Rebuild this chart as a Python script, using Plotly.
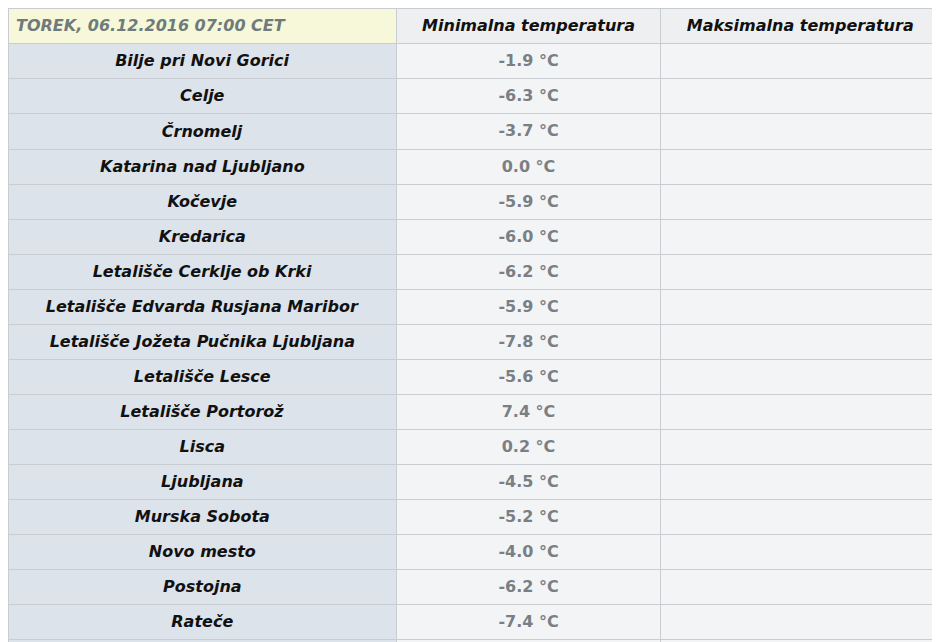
import plotly.graph_objects as go

stations = ["Bilje pri Novi Gorici", "Celje", "Črnomelj", "Katarina nad Ljubljano",
            "Kočevje", "Kredarica", "Letališče Cerklje ob Krki",
            "Letališče Edvarda Rusjana Maribor", "Letališče Jožeta Pučnika Ljubljana",
            "Letališče Lesce", "Letališče Portorož", "Lisca", "Ljubljana",
            "Murska Sobota", "Novo mesto", "Postojna", "Rateče", "Slovenj Gradec", "Vojsko"]
min_temp = [-1.9, -6.3, -3.7, 0.0, -5.9, -6.0, -6.2, -5.9, -7.8, -5.6,
            7.4, 0.2, -4.5, -5.2, -4.0, -6.2, -7.4, -7.2, -6.2]
max_temp = [""] * len(stations)
headers = ["TOREK, 06.12.2016 07:00 CET", "Minimalna temperatura", "Maksimalna temperatura"]

col1 = ["<b><i>%s</i></b>" % s for s in stations]
col2 = ["<b>%.1f °C</b>" % v for v in min_temp]

fig = go.Figure(go.Table(
    columnwidth=[392, 266, 282],
    header=dict(
        values=["<b><i>%s</i></b>" % h for h in headers],
        fill_color=["#f7f8d9", "#eeeff1", "#eeeff1"],
        line_color="#c9cdd2",
        font=dict(family="DejaVu Sans", size=16, color=["#6f7b7b", "#111111", "#111111"]),
        align=["left", "center", "center"],
        height=29.5,
    ),
    cells=dict(
        values=[col1, col2, max_temp],
        fill_color=["#dde3ea", "#f3f4f6", "#f3f4f6"],
        line_color="#c9cdd2",
        font=dict(family="DejaVu Sans", size=16, color=["#111111", "#7a7f84", "#111111"]),
        align="center",
        height=29.5,
    ),
))

fig.update_layout(width=932, height=634, margin=dict(l=0, r=0, t=0, b=0),
                  paper_bgcolor="white")

fig.write_html("out.html")
